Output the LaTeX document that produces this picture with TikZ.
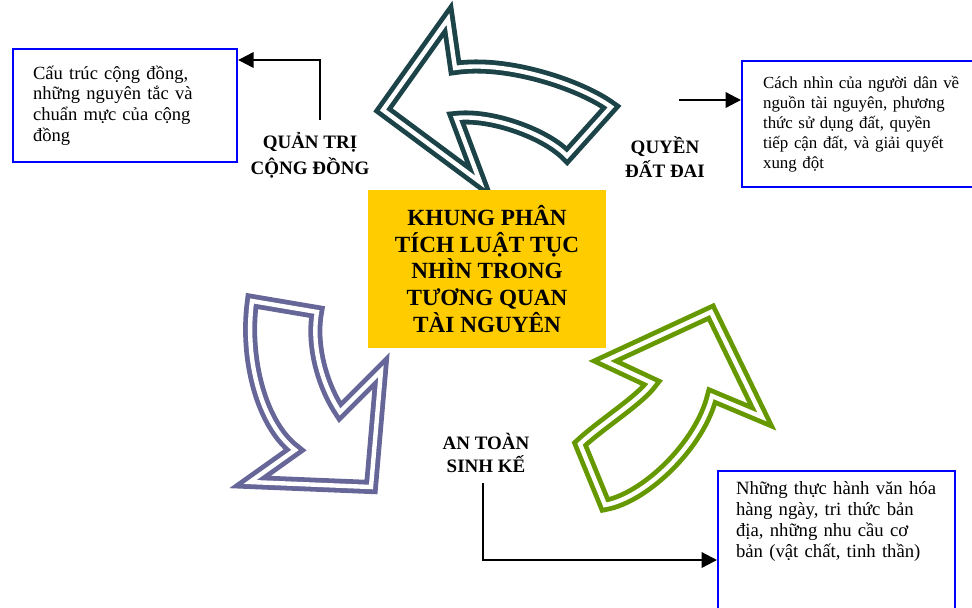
\documentclass[tikz,border=0pt]{standalone}
\usepackage{fontspec}
\setmainfont{Liberation Serif}
\usetikzlibrary{arrows.meta, positioning}

\definecolor{darkteal}{RGB}{28,68,72}
\definecolor{slatepurple}{RGB}{102,102,153}
\definecolor{olivegreen}{RGB}{102,153,0}
\definecolor{goldbox}{RGB}{255,204,0}

\begin{document}
\begin{tikzpicture}[
    x=0.025cm, y=-0.025cm,
    textbox/.style={rectangle, draw=blue, line width=1.5pt, anchor=north west, align=left, font=\fontsize{13.2}{14.7}\selectfont},
    corebox/.style={rectangle, fill=goldbox, minimum width=5.95cm, minimum height=3.95cm, align=center, font=\fontsize{16.5}{19}\selectfont\bfseries},
    facet/.style={align=center, font=\fontsize{13.5}{17}\selectfont\bfseries},
    link/.style={-{Triangle[length=11pt, width=11pt]}, line width=1.6pt},
    bigarrow/.style={line width=0.12cm, double=white, double distance=0.11cm, line join=miter},
]
\useasboundingbox (0,0) rectangle (972,607);

% Curved block arrows
\draw[bigarrow, darkteal] (383,110) -- (448,19) -- (455,68)
    .. controls (507,60) and (581,85) .. (611,107)
    -- (567,156)
    .. controls (545,133) and (490,114) .. (456,118)
    -- (480,182) -- cycle;
\draw[bigarrow, slatepurple] (295,450)
    .. controls (262,425) and (244,360) .. (252,301)
    -- (317,312)
    .. controls (311,345) and (322,385) .. (340,412)
    -- (381,371) -- (371,487) -- (250,482) -- cycle;
\draw[bigarrow, olivegreen] (652,383)
    .. controls (640,400) and (600,425) .. (580,444)
    -- (605,505)
    .. controls (645,498) and (700,445) .. (712,396)
    -- (762,417) -- (711,312) -- (605,361) -- cycle;

% Centre
\node[corebox] (core) at (487,269) {KHUNG PHÂN\\TÍCH LUẬT TỤC\\NHÌN TRONG\\TƯƠNG QUAN\\TÀI NGUYÊN};

% Labels
\node[facet, font=\fontsize{13.5}{18.5}\selectfont\bfseries] (quantri) at (310,155) {QUẢN TRỊ\\CỘNG ĐỒNG};
\node[facet] (quyen) at (665,157) {QUYỀN\\ĐẤT ĐAI};
\node[facet, font=\fontsize{13.5}{16}\selectfont\bfseries] (sinhke) at (486,453) {AN TOÀN\\SINH KẾ};

% Boxes
\node[textbox, inner xsep=0.5cm, text width=4.6cm, minimum height=2.825cm] (boxqt) at (12,48) {Cấu trúc cộng đồng,\\những nguyên tắc và\\chuẩn mực của cộng\\đồng};
\node[textbox, font=\fontsize{12}{14.2}\selectfont, inner xsep=0.525cm, text width=6cm, minimum height=3.15cm] (boxqd) at (741,60) {Cách nhìn của người dân về\\nguồn tài nguyên, phương\\thức sử dụng đất, quyền\\tiếp cận đất, và giải quyết\\xung đột};
\node[textbox, font=\fontsize{13.3}{15.1}\selectfont, inner xsep=0.45cm, inner ysep=0.25cm, text width=5.025cm, text depth=4cm] (boxsk) at (717,470) {Những thực hành văn hóa\\hàng ngày, tri thức bản\\địa, những nhu cầu cơ\\bản (vật chất, tinh thần)};

% Connectors
\coordinate (qtstart) at (320,120);
\coordinate (qdstart) at (679,100);
\coordinate (skstart) at (483,483);
\draw[link] (qtstart) |- (boxqt.east |- 0,60);
\draw[link] (qdstart) -- (boxqd.west |- qdstart);
\draw[link] (skstart) |- (boxsk.west |- 0,560);

\end{tikzpicture}
\end{document}
